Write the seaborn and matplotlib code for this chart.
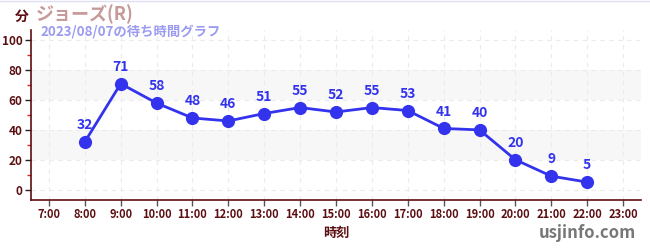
import matplotlib
matplotlib.use("Agg")
import matplotlib.pyplot as plt
import seaborn as sns
import pandas as pd
from matplotlib.ticker import MultipleLocator

hours = [8, 9, 10, 11, 12, 13, 14, 15, 16, 17, 18, 19, 20, 21, 22]
waits = [32, 71, 58, 48, 46, 51, 55, 52, 55, 53, 41, 40, 20, 9, 5]
xticks = list(range(7, 24))
xticklabels = [f"{h}:00" for h in xticks]
yticks = [0, 20, 40, 60, 80, 100]

sns.set_theme(style="white")
plt.rcParams['font.family'] = ['Noto Sans CJK JP', 'DejaVu Sans']

df = pd.DataFrame({"hour": hours, "wait": waits})

fig = plt.figure(figsize=(6.5, 2.5), dpi=100)
ax = fig.add_axes([31/650, 50/250, 610/650, 170/250])

maroon = "#5c0f12"
blue = "#3333ee"

for lo, hi in [(20, 40), (60, 80)]:
    ax.axhspan(lo, hi, color="#f7f7f7", zorder=0, lw=0)

sns.lineplot(data=df, x="hour", y="wait", ax=ax, color=blue, lw=2.0,
             marker="o", markersize=9.5, markeredgewidth=0, zorder=3)

for h, w in zip(hours, waits):
    ax.annotate(str(w), (h, w), xytext=(0, 7), textcoords="offset points",
                ha="center", va="bottom", color=blue, fontsize=10,
                fontweight="bold")

ax.set_xlim(6.5, 23.5)
ax.set_ylim(-7, 107)
ax.set_xticks(xticks)
ax.set_xticklabels(xticklabels)
ax.set_yticks(yticks)
ax.yaxis.set_minor_locator(MultipleLocator(10))
ax.grid(True, which="major", color="#ebebeb", ls=(0, (4, 4)), lw=0.8)
ax.set_axisbelow(True)

ax.tick_params(axis="x", which="major", length=4, width=1, color="#555555",
               labelcolor=maroon, labelsize=8, pad=2, bottom=True)
ax.tick_params(axis="y", which="major", length=4, width=1, color="#222222",
               labelcolor=maroon, labelsize=8.5, pad=2, left=True)
ax.tick_params(axis="y", which="minor", length=3, width=1, color="#e02020", left=True)
for lab in ax.get_xticklabels() + ax.get_yticklabels():
    lab.set_fontweight("bold")

for s in ["top", "right"]:
    ax.spines[s].set_visible(False)
for s in ["left", "bottom"]:
    ax.spines[s].set_color(maroon)
    ax.spines[s].set_linewidth(1.2)

ax.set_xlabel("時刻", color=maroon, fontsize=9.5, fontweight="bold", labelpad=3)
ax.set_ylabel("")

fig.text(15/650, 1 - 17/250, "分", color=maroon, fontsize=10, fontweight="bold",
         ha="left", va="center")
fig.text(36/650, 1 - 14/250, "ジョーズ(R)", color="#c79a9a", fontsize=13,
         fontweight="bold", ha="left", va="center")
fig.text(40/650, 1 - 32/250, "2023/08/07の待ち時間グラフ", color="#9b9bf0",
         fontsize=9.6, fontweight="bold", ha="left", va="center")
fig.text(636/650, 1 - 233/250, "usjinfo.com", color="#777777", fontsize=12,
         fontweight="bold", ha="right", va="center")

fig.add_artist(plt.Line2D([0, 1], [0.998, 0.998], transform=fig.transFigure,
                          color="#dde0f5", lw=1))

fig.savefig("out.png", dpi=100)
